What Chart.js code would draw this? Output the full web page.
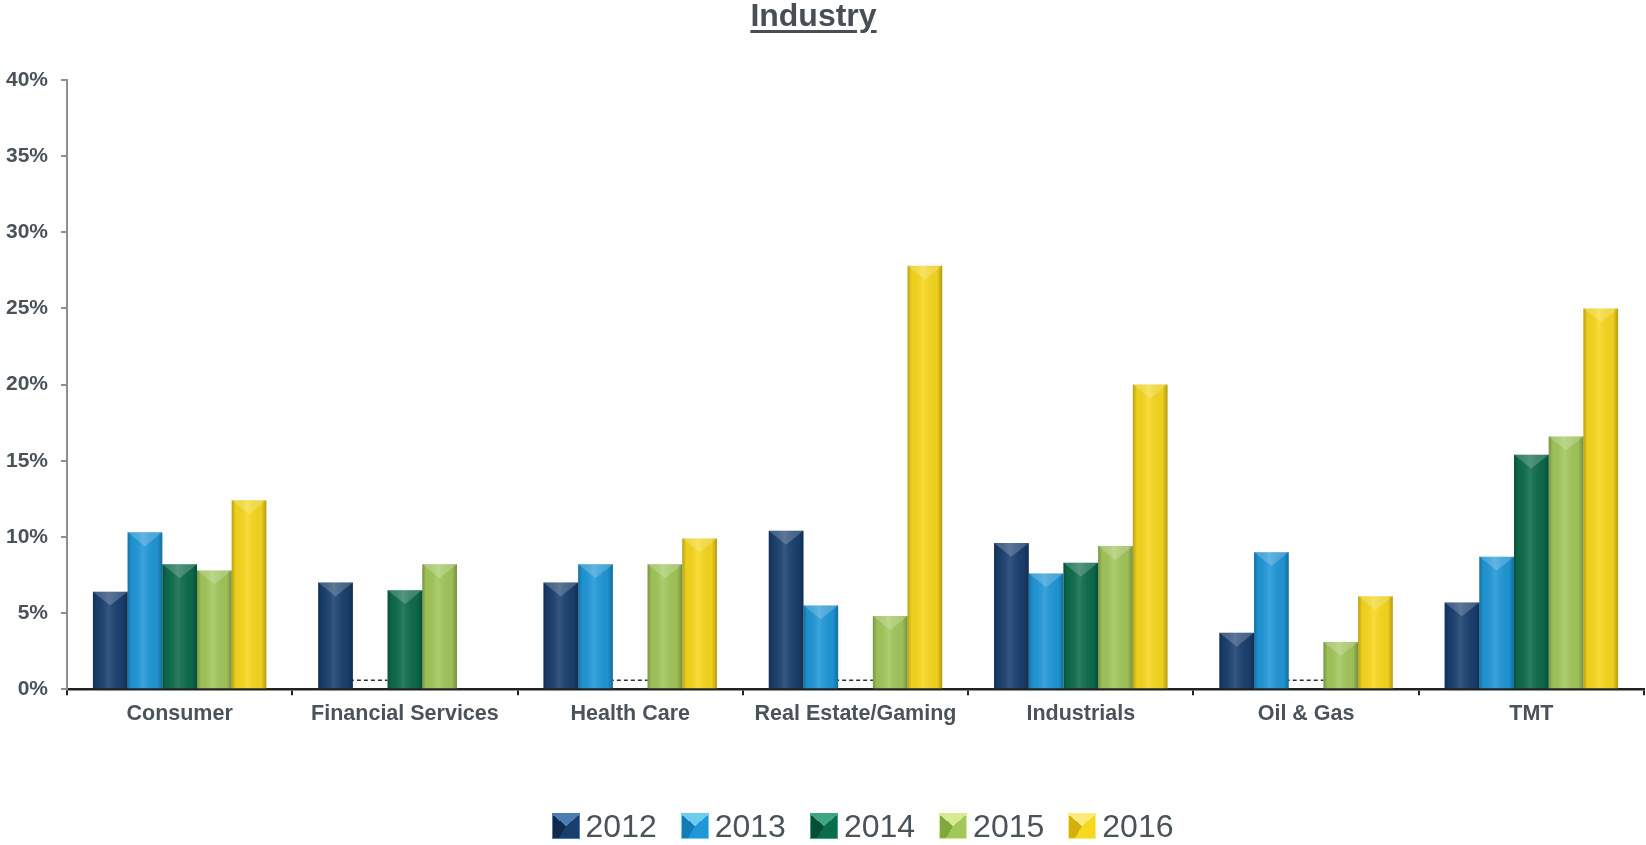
<!DOCTYPE html>
<html>
<head>
<meta charset="utf-8">
<title>Industry</title>
<script src="https://cdn.jsdelivr.net/npm/chart.js@4.4.1/dist/chart.umd.min.js"></script>
<style>
  html, body { margin: 0; padding: 0; background: #fff; }
  #wrap { position: relative; width: 1646px; height: 845px; }
  #title {
    position: absolute; top: -1px; left: 0; width: 1627px;
    text-align: center; font: bold 32px/32px "Liberation Sans", Arial, sans-serif;
    color: #474e56; text-decoration: underline;
    text-decoration-thickness: 3px; text-underline-offset: 4px;
  }
  #legend {
    position: absolute; top: 810px; left: 0; width: 1725px;
    display: flex; justify-content: center; gap: 24px;
    font: 32px/32px "Liberation Sans", Arial, sans-serif;
    color: #4a525a;
  }
  .item { display: flex; align-items: center; gap: 6px; }
  .swatch { width: 28px; height: 26px; box-sizing: border-box; }
</style>
</head>
<body>
<div id="wrap">
  <canvas id="industryChart"></canvas>
  <div id="title">Industry</div>
  <div id="legend"></div>
</div>
<script>
// categories and yearly shares (%), 0 = none reported, null = no entry
const industries = ['Consumer', 'Financial Services', 'Health Care', 'Real Estate/Gaming', 'Industrials', 'Oil & Gas', 'TMT'];
const years = ['2012', '2013', '2014', '2015', '2016'];
const share2012 = [6.4, 7.0, 7.0, 10.4, 9.6, 3.7, 5.7];
const share2013 = [10.3, 0, 8.2, 5.5, 7.6, 9.0, 8.7];
const share2014 = [8.2, 6.5, 0, 0, 8.3, 0, 15.4];
const share2015 = [7.8, 8.2, 8.2, 4.8, 9.4, 3.1, 16.6];
const share2016 = [12.4, null, 9.9, 27.8, 20.0, 6.1, 25.0];
const yMax = 40;
const yStep = 5;

const yearColors = ['#1a3f6f', '#1f97d8', '#0c6b4a', '#a2c75a', '#f7d81c'];
const yearLight = ['#4d7cb0', '#6fcbef', '#3fa583', '#d6ea94', '#fbeb7a'];
const yearDark = ['#102a4d', '#137bb5', '#064e34', '#7fa83d', '#d4b00e'];
const allShares = [share2012, share2013, share2014, share2015, share2016];

// shading on top of each bar: darker edges, lighter middle, chevron at the top
const bevelPlugin = {
  id: 'bevel',
  afterDatasetDraw(chart, args) {
    const ctx = chart.ctx;
    const values = chart.data.datasets[args.index].data;
    args.meta.data.forEach((bar, i) => {
      const v = values[i];
      if (v === null || v === undefined) return;
      const { x, y, base, width } = bar.getProps(['x', 'y', 'base', 'width'], true);
      const left = x - width / 2, right = x + width / 2;
      ctx.save();
      if (v === 0) {
        // zero share: short dashed stub just above the axis
        ctx.strokeStyle = '#333';
        ctx.lineWidth = 1.5;
        ctx.setLineDash([4, 3]);
        ctx.beginPath();
        ctx.moveTo(left - 3, base - 9);
        ctx.lineTo(right, base - 9);
        ctx.stroke();
        ctx.restore();
        return;
      }
      const g = ctx.createLinearGradient(left, 0, right, 0);
      g.addColorStop(0, 'rgba(0,0,0,0.25)');
      g.addColorStop(0.12, 'rgba(0,0,0,0.04)');
      g.addColorStop(0.45, 'rgba(255,255,255,0.12)');
      g.addColorStop(0.85, 'rgba(0,0,0,0.04)');
      g.addColorStop(1, 'rgba(0,0,0,0.28)');
      ctx.fillStyle = g;
      ctx.fillRect(left, y, width, base - y);
      const h = Math.min(width * 0.4, base - y);
      ctx.beginPath();
      ctx.moveTo(left, y);
      ctx.lineTo(right, y);
      ctx.lineTo(x, y + h);
      ctx.closePath();
      ctx.fillStyle = 'rgba(255,255,255,0.2)';
      ctx.fill();
      ctx.restore();
    });
  }
};

Chart.defaults.font.family = '"Liberation Sans", Arial, sans-serif';

new Chart(document.getElementById('industryChart'), {
  type: 'bar',
  data: {
    labels: industries,
    datasets: years.map((yr, k) => ({
      label: yr,
      data: allShares[k],
      backgroundColor: yearColors[k],
      borderWidth: 0,
      categoryPercentage: 0.77,
      barPercentage: 1.0
    }))
  },
  options: {
    responsive: true,
    maintainAspectRatio: false,
    animation: false,
    layout: { padding: { top: 80, left: 5, right: 2, bottom: 112 } },
    plugins: {
      legend: { display: false },
      tooltip: { enabled: false }
    },
    scales: {
      x: {
        grid: { drawOnChartArea: false, drawTicks: true, tickLength: 6, color: '#222', lineWidth: 2, offset: true },
        border: { display: true, color: '#222', width: 2.5 },
        ticks: { color: '#4a525a', font: { size: 21.5, weight: 'bold' }, padding: 6, maxRotation: 0 }
      },
      y: {
        min: 0,
        max: yMax,
        afterFit: scale => { scale.width = 62; },
        ticks: {
          stepSize: yStep,
          color: '#4a525a',
          font: { size: 21, weight: 'bold' },
          padding: 13,
          callback: v => v + '%'
        },
        grid: { drawOnChartArea: false, drawTicks: true, tickLength: 6, color: '#8a9096', lineWidth: 2 },
        border: { display: true, color: '#8a9096', width: 2 }
      }
    }
  },
  plugins: [bevelPlugin]
});

// legend row under the chart
const legend = document.getElementById('legend');
years.forEach((yr, k) => {
  const item = document.createElement('div');
  item.className = 'item';
  const sw = document.createElement('span');
  sw.className = 'swatch';
  sw.style.background = `conic-gradient(from -50deg at 50% 50%, ${yearLight[k]} 0deg 100deg, ${yearColors[k]} 100deg 180deg, ${yearColors[k]} 180deg 260deg, ${yearDark[k]} 260deg 360deg)`;
  sw.style.border = `1px solid ${yearLight[k]}`;
  const txt = document.createElement('span');
  txt.textContent = yr;
  item.appendChild(sw);
  item.appendChild(txt);
  legend.appendChild(item);
});
</script>
</body>
</html>
